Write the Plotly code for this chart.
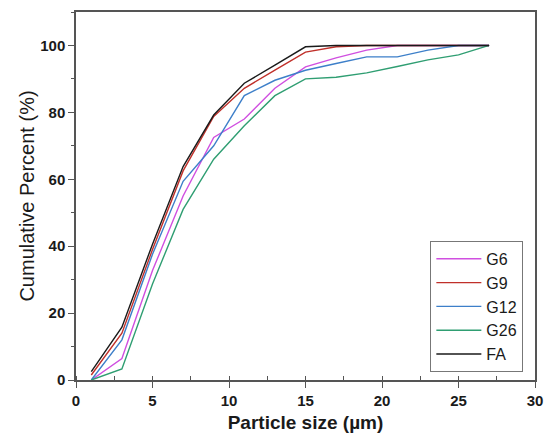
import plotly.graph_objects as go

sizes = [1, 3, 5, 7, 9, 11, 13, 15, 17, 19, 21, 23, 25, 27]
g6 = [0.0, 6.4, 32.7, 55.0, 72.5, 78.0, 87.2, 93.6, 96.3, 98.6, 100, 100, 100, 100]
g9 = [1.5, 14.0, 39.0, 62.5, 78.8, 87.2, 92.6, 98.0, 99.6, 100, 100, 100, 100, 100]
g12 = [0.0, 12.0, 37.6, 59.4, 70.0, 85.0, 89.6, 92.6, 94.6, 96.6, 96.6, 98.6, 100, 100]
g26 = [0.0, 3.3, 28.7, 51.0, 66.0, 76.0, 85.0, 90.0, 90.5, 91.8, 93.7, 95.7, 97.2, 100]
fa = [2.5, 15.8, 40.6, 63.8, 79.2, 88.7, 94.1, 99.6, 100, 100, 100, 100, 100, 100]

names = ["G6", "G9", "G12", "G26", "FA"]
series = [g6, g9, g12, g26, fa]
colors = ["#d04fe0", "#c0302a", "#3d7fc9", "#2f9e72", "#1a1a1a"]

fig = go.Figure()
for n, s, c in zip(names, series, colors):
    fig.add_trace(go.Scatter(x=sizes, y=s, mode="lines", name=n,
                             line=dict(color=c, width=1.4)))

axis_font = dict(family="Liberation Sans, Arial, sans-serif", size=15, color="#1a1a1a")
fig.update_layout(
    width=553, height=440,
    margin=dict(l=76, r=14, t=10, b=60),
    paper_bgcolor="white", plot_bgcolor="white",
    font=dict(family="Liberation Sans, Arial, sans-serif", color="#1a1a1a"),
    showlegend=True,
    legend=dict(x=0.772, y=0.378, xanchor="left", yanchor="top",
                bordercolor="#777", borderwidth=1, bgcolor="white",
                font=dict(size=16, family="Liberation Sans, Arial, sans-serif"),
                tracegroupgap=0, itemwidth=45),
    xaxis=dict(range=[0, 30], tickvals=[0, 5, 10, 15, 20, 25, 30],
               ticktext=["<b>%d</b>" % v for v in [0, 5, 10, 15, 20, 25, 30]],
               ticks="outside", ticklen=6, tickwidth=1.3, tickcolor="#555",
               minor=dict(dtick=2.5, ticks="inside", ticklen=4, tickcolor="#555", tickwidth=1),
               showline=True, linecolor="#555", linewidth=1.5, mirror=True,
               showgrid=False, zeroline=False, tickfont=axis_font,
               title=dict(text="<b>Particle size (µm)</b>", font=dict(size=19), standoff=8)),
    yaxis=dict(range=[0, 110], tickvals=[0, 20, 40, 60, 80, 100],
               ticktext=["<b>%d</b>" % v for v in [0, 20, 40, 60, 80, 100]],
               ticks="outside", ticklen=6, tickwidth=1.3, tickcolor="#555",
               minor=dict(dtick=10, ticks="outside", ticklen=3, tickcolor="#555", tickwidth=1),
               showline=True, linecolor="#555", linewidth=1.5, mirror=True,
               showgrid=False, zeroline=False, tickfont=axis_font,
               title=dict(text="Cumulative Percent (%)", font=dict(size=20), standoff=0)),
)

fig.write_html("out.html")
